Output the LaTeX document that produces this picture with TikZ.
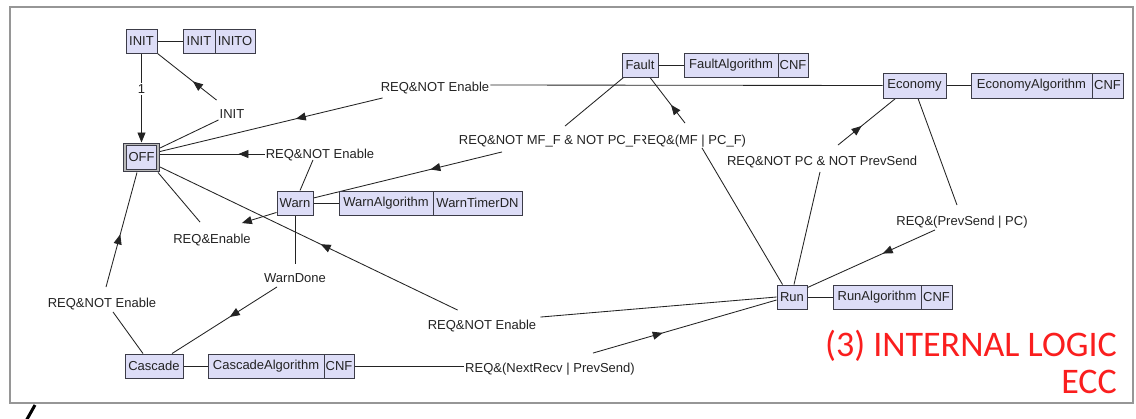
\documentclass[tikz,border=0pt]{standalone}
\usepackage{fontspec}
\setmainfont{Liberation Sans}
\newfontfamily\titlefont{Carlito}
\usetikzlibrary{arrows.meta,decorations.markings}
\pgfdeclarelayer{background}
\pgfsetlayers{background,main}

\definecolor{statefill}{RGB}{221,221,247}
\definecolor{edge}{RGB}{60,60,72}
\definecolor{ink}{RGB}{35,35,35}
\definecolor{framegray}{RGB}{150,150,150}
\definecolor{titlered}{RGB}{250,30,30}
\newcommand{\lblfont}{\fontsize{13pt}{15pt}\selectfont}

\tikzset{
  state/.style={draw=edge, fill=statefill, line width=0.9pt, minimum height=24pt,
                inner sep=0pt, font=\lblfont, text=ink},
  initstate/.style={state, line width=0.8pt, double=gray!55, double distance=1.6pt, outer sep=2pt},
  lbl/.style={font=\lblfont, text=ink, inner sep=1pt, text height=9.5pt, text depth=0pt},
  trans/.style={draw=ink, line width=0.85pt},
  link/.style={draw=ink, line width=0.85pt},
  endarrow/.style={-{Triangle[length=10pt,width=8pt]}},
  midarrow/.style={postaction={decorate},
    decoration={markings, mark=at position #1 with {\arrow{Triangle[length=10pt,width=8pt]}}}}
}

\begin{document}
\begin{tikzpicture}[x=1pt,y=-1pt]
\begin{pgfonlayer}{background}
  \useasboundingbox[fill=white] (0,0) rectangle (1136,418);
  \draw[framegray, line width=1.8pt] (10,7) rectangle (1133,403);
  \draw[black, line width=3pt] (26,421) -- (35,405);
\end{pgfonlayer}

% states
\node[state, minimum width=31pt] (INIT) at (141.5,41) {INIT};
\node[initstate, minimum width=33pt, minimum height=26pt] (OFF) at (141.5,157.5) {OFF};
\node[state, minimum width=36pt] (Warn) at (295,203) {Warn};
\node[state, minimum width=36pt] (Fault) at (640,65) {Fault};
\node[state, minimum width=63pt, minimum height=25pt] (Economy) at (914.5,85.5) {Economy};
\node[state, minimum width=30pt] (Run) at (792,297) {Run};
\node[state, minimum width=58pt] (Cascade) at (154,366) {Cascade};

% actions: algorithm | output event
\node[state, minimum width=32pt] (initA) at (199,41) {INIT};
\node[state, minimum width=40pt] (initB) at (235,41) {INITO};
\node[state, minimum width=94pt] (warnA) at (386,203) {WarnAlgorithm};
\node[state, minimum width=89pt] (warnB) at (477.5,203) {WarnTimerDN};
\node[state, minimum width=94pt] (faultA) at (731,65) {FaultAlgorithm};
\node[state, minimum width=30pt] (faultB) at (793,65) {CNF};
\node[state, minimum width=121pt, minimum height=25pt] (ecoA) at (1031.5,85.5) {EconomyAlgorithm};
\node[state, minimum width=31pt, minimum height=25pt] (ecoB) at (1107.5,85.5) {CNF};
\node[state, minimum width=88pt] (runA) at (877,297) {RunAlgorithm};
\node[state, minimum width=31pt] (runB) at (936.5,297) {CNF};
\node[state, minimum width=116pt] (casA) at (266,366) {CascadeAlgorithm};
\node[state, minimum width=30pt] (casB) at (339,366) {CNF};

% transition conditions
\node[lbl] (lInit) at (232,114) {INIT};
\node[lbl] (lOffA) at (435,87) {REQ\&NOT Enable};
\node[lbl] (lOffW) at (320,154) {REQ\&NOT Enable};
\node[lbl] (lRF) at (692,140) {REQ\&(MF | PC\_F)};
\node[lbl, fill=white] (lFW) at (550,140) {REQ\&NOT MF\_F \& NOT PC\_F};
\node[lbl] (lEco) at (822,161) {REQ\&NOT PC \& NOT PrevSend};
\node[lbl] (lER) at (962,221) {REQ\&(PrevSend | PC)};
\node[lbl] (lRO) at (482,325) {REQ\&NOT Enable};
\node[lbl] (lCR) at (550,368) {REQ\&(NextRecv | PrevSend)};
\node[lbl] (lWD) at (295,278) {WarnDone};
\node[lbl] (lCO) at (102,303) {REQ\&NOT Enable};
\node[lbl] (lOW) at (212,239) {REQ\&Enable};

% caption
\node[anchor=base east, inner sep=0pt, text=titlered, font=\titlefont\fontsize{36pt}{40pt}\selectfont] (title1) at (1117,356) {(3) INTERNAL LOGIC};
\node[anchor=base east, inner sep=0pt, text=titlered, font=\titlefont\fontsize{36pt}{40pt}\selectfont] (title2) at (1117,393) {ECC};

\begin{pgfonlayer}{background}
  % action links
  \draw[link] (INIT) -- (initA);
  \draw[link] (Warn) -- (warnA);
  \draw[link] (Fault) -- (faultA);
  \draw[link] (Economy) -- (ecoA);
  \draw[link] (Run) -- (runA);
  \draw[link] (Cascade) -- (casA);

  % INIT -> OFF
  \draw[trans, endarrow] (INIT) -- node[lbl, fill=white, pos=0.4] (l1) {1} (OFF);
  % OFF -> INIT
  \draw[trans] ([yshift=9.5pt]OFF.east) -- (lInit.south west);
  \draw[trans, midarrow=0.4] ([shift={(-2pt,8pt)}]lInit.north west) -- (INIT.south east);
  % Economy -> OFF
  \draw[trans] (Economy.west) -- ([yshift=2pt]lOffA.east);
  \draw[trans, midarrow=0.39] ([shift={(3pt,-5pt)}]lOffA.south west) -- ([yshift=6pt]OFF.east);
  % Warn -> OFF
  \draw[trans] ([xshift=5pt]Warn.north) -- ([xshift=-7pt]lOffW.south);
  \draw[trans, midarrow=0.25] (lOffW.west) -- ([yshift=3.5pt]OFF.east);
  % Fault -> Warn
  \draw[trans] ([xshift=2pt]Fault.south west) -- ([shift={(15pt,8pt)}]lFW.north);
  \draw[trans, midarrow=0.38] ([shift={(-48pt,-6pt)}]lFW.south) -- ([yshift=5pt]Warn.east);
  % Warn -> Cascade
  \draw[trans] (Warn.south) -- ([yshift=8pt]lWD.north);
  \draw[trans, midarrow=0.45] ([shift={(-18pt,-3pt)}]lWD.south) -- ([xshift=18pt]Cascade.north);
  % Cascade -> OFF
  \draw[trans] ([xshift=-11pt]Cascade.north) -- ([shift={(11pt,-3pt)}]lCO.south);
  \draw[trans, midarrow=0.46] ([shift={(4pt,10pt)}]lCO.north) -- ([xshift=-4.5pt]OFF.south);
  % OFF -> Warn
  \draw[trans] ([xshift=-2pt]OFF.south east) -- ([shift={(-12pt,11pt)}]lOW.north);
  \draw[trans, endarrow] ([yshift=3pt]Warn.south west) -- ([shift={(-10pt,10pt)}]lOW.north east);
  % Run -> OFF
  \draw[trans] (Run.west) -- ([shift={(3pt,2pt)}]lRO.north east);
  \draw[trans, midarrow=0.46] ([shift={(31pt,9pt)}]lRO.north west) -- ([yshift=-9.5pt]OFF.east);
  % Cascade -> Run
  \draw[trans] (Cascade.east) -- ([yshift=2pt]lCR.west);
  \draw[trans, midarrow=0.38] ([shift={(43pt,9pt)}]lCR.north) -- ([yshift=-3pt]Run.west);
  % Run -> Fault
  \draw[trans] ([xshift=6pt]Run.north west) -- ([shift={(10pt,-2pt)}]lRF.south);
  \draw[trans, midarrow=0.4] ([shift={(-7pt,11pt)}]lRF.north) -- ([xshift=10pt]Fault.south);
  % Run -> Economy
  \draw[trans] ([xshift=2pt]Run.north) -- ([shift={(-2pt,-5pt)}]lEco.south);
  \draw[trans, midarrow=0.41] ([shift={(16pt,10pt)}]lEco.north) -- ([xshift=13pt]Economy.south west);
  % Economy -> Run
  \draw[trans] ([xshift=3.5pt]Economy.south) -- ([shift={(-5pt,10pt)}]lER.north);
  \draw[trans, midarrow=0.41] ([shift={(-27pt,-3pt)}]lER.south) -- ([yshift=-3pt]Run.north east);
\end{pgfonlayer}
\end{tikzpicture}
\end{document}
